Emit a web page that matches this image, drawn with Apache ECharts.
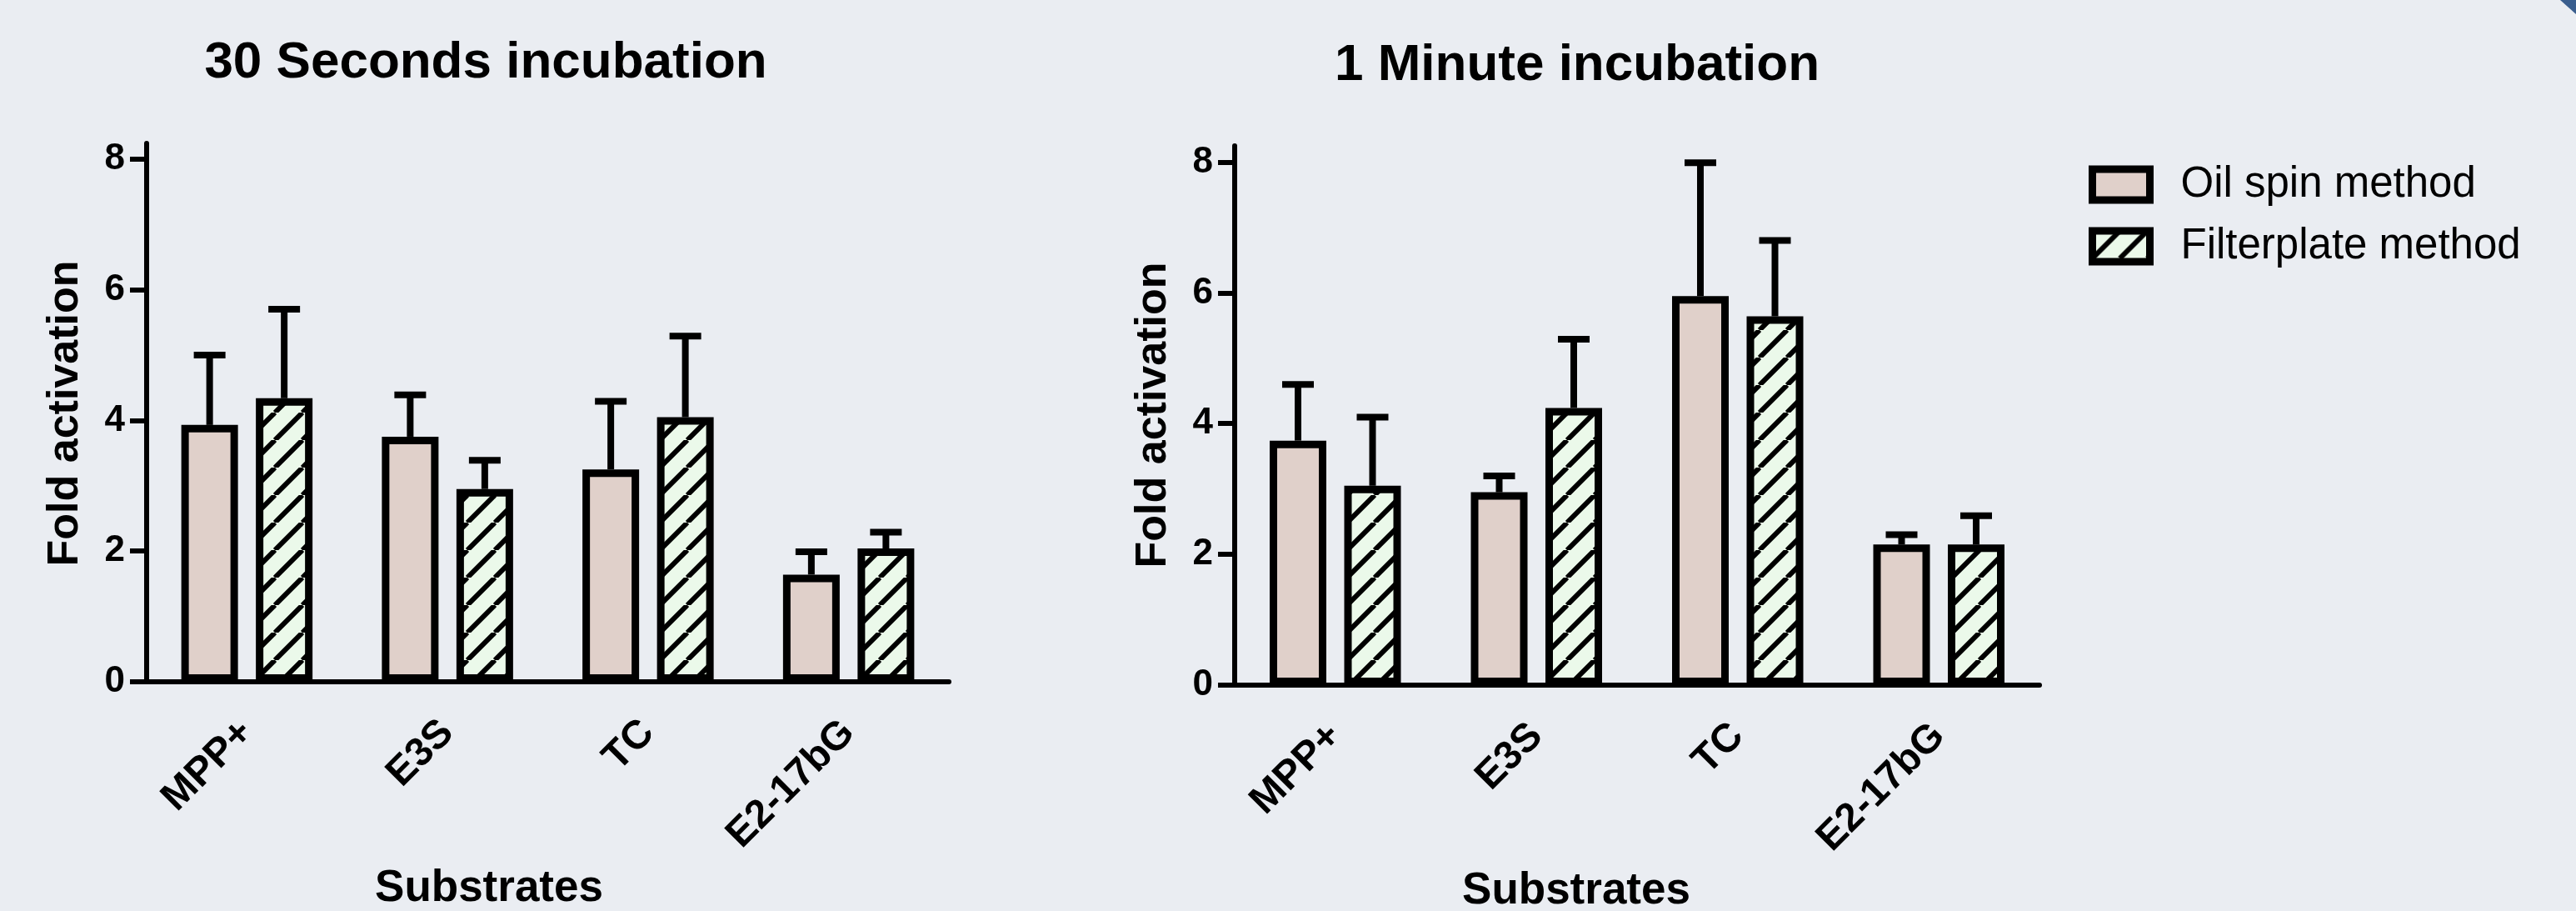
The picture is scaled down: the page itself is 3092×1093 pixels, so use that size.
<!DOCTYPE html>
<html>
<head>
<meta charset="utf-8">
<script src="https://cdn.jsdelivr.net/npm/echarts@6/dist/echarts.min.js"></script>
<style>
html,body{margin:0;padding:0;background:#eaedf2;}
#main{width:3092px;height:1093px;}
</style>
</head>
<body>
<div id="main"></div>
<script>
// ---- data ----
const categories = ['MPP+', 'E3S', 'TC', 'E2-17bG'];
const seriesNames = ['Oil spin method', 'Filterplate method'];
const panelTitles = ['30 Seconds incubation', '1 Minute incubation'];
const xAxisTitle = 'Substrates';
const yAxisTitle = 'Fold activation';
const yTicks = [0, 2, 4, 6, 8];

const oil30 = [3.93, 3.75, 3.25, 1.64];
const oil30Err = [1.07, 0.64, 1.04, 0.35];
const filt30 = [4.34, 2.95, 4.05, 2.04];
const filt30Err = [1.36, 0.44, 1.24, 0.25];

const oil1m = [3.74, 2.95, 5.95, 2.15];
const oil1mErr = [0.86, 0.25, 2.04, 0.15];
const filt1m = [3.05, 4.24, 5.64, 2.15];
const filt1mErr = [1.05, 1.05, 1.16, 0.44];

// ---- styles ----
const FONT = '"Liberation Sans", Arial, sans-serif';
const BG = '#eaedf2';
const OIL_FILL = '#e0d0ca';
const FILT_FILL = '#ebf9ea';
const BAR_W = 68;
const BAR_BORDER = 9;
const BAR_GAP_PX = 21.5;
const OFFSET = (BAR_W + BAR_GAP_PX) / 2;

function hatch() {
  const P = 33;
  const c = document.createElement('canvas');
  c.width = P; c.height = P;
  const g = c.getContext('2d');
  g.fillStyle = FILT_FILL;
  g.fillRect(0, 0, P, P);
  g.strokeStyle = '#000';
  g.lineWidth = 6;
  for (const k of [-P, 0, P]) {
    g.beginPath();
    g.moveTo(k, P);
    g.lineTo(k + P, 0);
    g.stroke();
  }
  return c;
}
const hatchFill = { image: hatch(), repeat: 'repeat' };

const grids = [
  { left: 176, top: 172, width: 963, height: 646 },
  { left: 1482, top: 175, width: 966, height: 647 }
];
const yMax = [646 / 78.41, 647 / 78.44];

function xAxisFor(i) {
  return {
    type: 'category', gridIndex: i, data: categories,
    boundaryGap: true,
    axisLine: { lineStyle: { color: '#000', width: 6 } },
    axisTick: { alignWithLabel: true, length: 18, lineStyle: { color: '#000', width: 5 } },
    axisLabel: { rotate: 45, margin: 54, fontSize: 48, fontWeight: 'bold', color: '#000', fontFamily: FONT },
    splitLine: { show: false }
  };
}
function yAxisFor(i) {
  return {
    type: 'value', gridIndex: i, min: 0, max: yMax[i], interval: 2,
    axisLine: { show: true, lineStyle: { color: '#000', width: 6 } },
    axisTick: { show: true, length: 20, customValues: yTicks, lineStyle: { color: '#000', width: 6 } },
    axisLabel: { margin: 26, fontSize: 44, fontWeight: 'bold', color: '#000', fontFamily: FONT, customValues: yTicks },
    splitLine: { show: false }
  };
}

function barSeries(name, data, i, fill) {
  return {
    type: 'bar', name: name, xAxisIndex: i, yAxisIndex: i, data: data,
    barWidth: BAR_W, barGap: (BAR_GAP_PX / BAR_W * 100) + '%',
    itemStyle: { color: fill, borderColor: '#000', borderWidth: BAR_BORDER },
    z: 3
  };
}
function errSeries(vals, errs, i, offset) {
  return {
    type: 'custom', name: 'err', xAxisIndex: i, yAxisIndex: i, z: 2,
    data: vals.map((v, k) => [k, v, errs[k]]),
    renderItem: function (params, api) {
      const idx = api.value(0), v = api.value(1), e = api.value(2);
      const b = api.coord([idx, v]);
      const t = api.coord([idx, v + e]);
      const x = b[0] + offset;
      return {
        type: 'group',
        children: [
          { type: 'line', shape: { x1: x, y1: b[1], x2: x, y2: t[1] }, style: { stroke: '#000', lineWidth: 8 } },
          { type: 'line', shape: { x1: x - 19, y1: t[1], x2: x + 19, y2: t[1] }, style: { stroke: '#000', lineWidth: 8 } }
        ]
      };
    }
  };
}

function txt(text, x, y, size, rot) {
  return {
    type: 'text', x: x, y: y, rotation: rot || 0,
    style: { text: text, fontSize: size, fontWeight: 'bold', fontFamily: FONT, fill: '#000', align: 'center', verticalAlign: 'middle' }
  };
}

const chart = echarts.init(document.getElementById('main'), null, { renderer: 'canvas' });
chart.setOption({
  backgroundColor: BG,
  animation: false,
  grid: grids,
  xAxis: [xAxisFor(0), xAxisFor(1)],
  yAxis: [yAxisFor(0), yAxisFor(1)],
  legend: {
    data: seriesNames, orient: 'vertical', left: 2507, top: 196, padding: 0,
    itemWidth: 69, itemHeight: 37, itemGap: 23, icon: 'rect',
    itemStyle: { borderColor: '#000', borderWidth: 9 },
    textStyle: { fontSize: 51, color: '#000', fontFamily: FONT, lineHeight: 51, padding: [0, 0, 0, 32] }
  },
  series: [
    barSeries(seriesNames[0], oil30, 0, OIL_FILL),
    barSeries(seriesNames[1], filt30, 0, hatchFill),
    barSeries(seriesNames[0], oil1m, 1, OIL_FILL),
    barSeries(seriesNames[1], filt1m, 1, hatchFill),
    errSeries(oil30, oil30Err, 0, -OFFSET),
    errSeries(filt30, filt30Err, 0, OFFSET),
    errSeries(oil1m, oil1mErr, 1, -OFFSET),
    errSeries(filt1m, filt1mErr, 1, OFFSET)
  ],
  graphic: [
    txt(panelTitles[0], 583, 76, 62),
    txt(panelTitles[1], 1893, 79, 62),
    txt(xAxisTitle, 587, 1066, 53),
    txt(xAxisTitle, 1892, 1069, 53),
    txt(yAxisTitle, 79, 496, 52, Math.PI / 2),
    txt(yAxisTitle, 1385, 498, 52, Math.PI / 2),
    { type: 'polygon', shape: { points: [[3073, 0], [3092, 0], [3092, 17]] }, style: { fill: '#3a5e8e' } }
  ]
});
</script>
</body>
</html>
